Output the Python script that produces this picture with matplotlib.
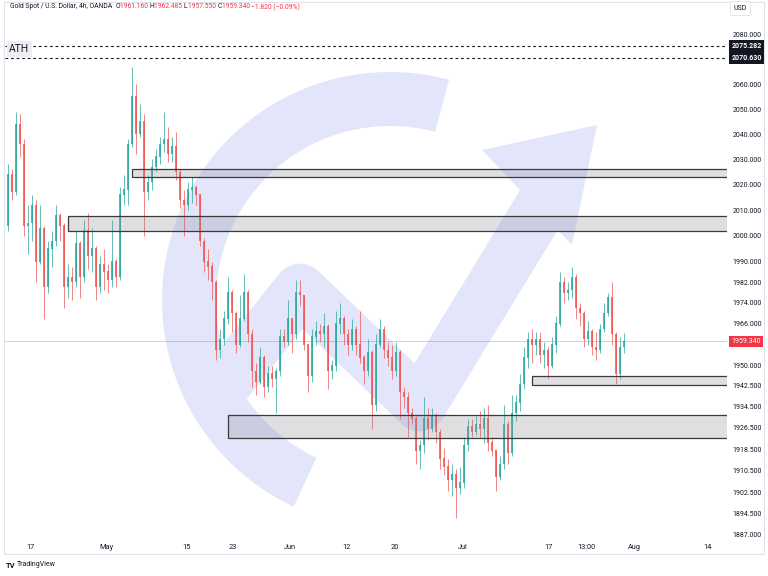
import numpy as np
import matplotlib
matplotlib.use("Agg")
import matplotlib.pyplot as plt
from matplotlib.patches import Rectangle, Polygon
from matplotlib.ticker import NullLocator
import matplotlib.transforms as mtransforms

plt.rcParams["font.family"] = ["Roboto", "DejaVu Sans"]

first_open = 2004.0
highs = [2028, 2026, 2049, 2048, 2038, 2012, 2016, 2014, 2012, 2004,
         1998, 2002, 2012, 2009, 2005, 1989, 1988, 2002, 1998, 2006,
         2009, 2003, 1996, 1992, 1995, 1989, 2006, 1991, 2019, 2024,
         2038, 2067, 2060, 2052, 2048, 2024, 2030, 2034, 2039, 2049,
         2043, 2039, 2041, 2026, 2018, 2021, 2023, 2020, 2016, 1999,
         1995, 1990, 1983, 1964, 1971, 1984, 1979, 1971, 1977, 1985,
         1979, 1964, 1951, 1957, 1954, 1950, 1950, 1949, 1964, 1964,
         1975, 1968, 1983, 1983, 1977, 1958, 1964, 1967, 1966, 1970,
         1966, 1952, 1971, 1974, 1969, 1964, 1968, 1965, 1971, 1954,
         1960, 1956, 1962, 1968, 1965, 1959, 1958, 1959, 1956, 1942,
         1940, 1934, 1931, 1922, 1938, 1934, 1934, 1932, 1926, 1919,
         1915, 1913, 1911, 1912, 1923, 1930, 1930, 1931, 1933, 1934,
         1935, 1923, 1918, 1916, 1935, 1929, 1939, 1939, 1947, 1957,
         1963, 1964, 1963, 1963, 1959, 1957, 1961, 1969, 1986, 1984,
         1982, 1988, 1985, 1974, 1971, 1967, 1964, 1963, 1966, 1974,
         1978, 1982, 1963, 1961, 1962.485]
lows = [2002, 2014, 2016, 2031, 2000, 1993, 1998, 1982, 1989, 1968,
        1978, 1988, 1996, 1998, 1972, 1976, 1975, 1980, 1976, 1982,
        1987, 1986, 1975, 1978, 1979, 1978, 1980, 1980, 1983, 2012,
        2012, 2035, 2032, 2039, 2000, 2014, 2018, 2025, 2028, 2033,
        2029, 2029, 2022, 2011, 2000, 2010, 2013, 2012, 1996, 1986,
        1983, 1975, 1952, 1953, 1958, 1966, 1963, 1955, 1957, 1967,
        1959, 1942, 1939, 1943, 1938, 1940, 1942, 1932, 1946, 1957,
        1958, 1955, 1960, 1973, 1956, 1940, 1944, 1958, 1959, 1957,
        1941, 1945, 1948, 1962, 1958, 1954, 1956, 1954, 1951, 1943,
        1946, 1926, 1933, 1957, 1953, 1950, 1945, 1946, 1930, 1934,
        1923, 1928, 1913, 1911, 1917, 1922, 1925, 1921, 1911, 1909,
        1903, 1901, 1893, 1902, 1904, 1918, 1923, 1924, 1923, 1921,
        1918, 1916, 1903, 1907, 1911, 1913, 1916, 1929, 1933, 1941,
        1949, 1951, 1954, 1951, 1949, 1945, 1949, 1955, 1965, 1974,
        1975, 1976, 1968, 1965, 1957, 1958, 1954, 1952, 1955, 1963,
        1969, 1958, 1943, 1945, 1955]
closes = [2024, 2017, 2044, 2036, 2004, 2005, 2012, 1990, 2003, 1980,
          1995, 1998, 2008, 2004, 1980, 1984, 1982, 1997, 1984, 2002,
          1992, 1995, 1980, 1989, 1986, 1983, 1990, 1984, 2016, 2018,
          2036, 2055, 2040, 2045, 2017, 2021, 2027, 2031, 2036, 2038,
          2032, 2035, 2025, 2014, 2012, 2018, 2019, 2016, 1998, 1990,
          1988, 1982, 1956, 1960, 1968, 1978, 1970, 1958, 1968, 1978,
          1962, 1948, 1944, 1953, 1942, 1947, 1945, 1948, 1961, 1959,
          1968, 1962, 1978, 1977, 1958, 1946, 1961, 1963, 1962, 1965,
          1948, 1950, 1966, 1968, 1962, 1958, 1964, 1958, 1953, 1948,
          1955, 1935, 1958, 1964, 1956, 1953, 1948, 1955, 1940, 1938,
          1932, 1930, 1918, 1920, 1930, 1926, 1931, 1925, 1915, 1912,
          1907, 1909, 1904, 1906, 1920, 1927, 1925, 1928, 1926, 1930,
          1921, 1918, 1908, 1913, 1928, 1917, 1932, 1936, 1943, 1953,
          1960, 1958, 1960, 1954, 1956, 1950, 1958, 1966, 1982, 1978,
          1979, 1984, 1972, 1970, 1960, 1963, 1957, 1956, 1964, 1970,
          1976, 1962, 1947, 1957, 1959.34]

price_ticks = [2080, 2060, 2050, 2040, 2030, 2020, 2010, 2000, 1990, 1982,
               1974, 1966, 1950, 1942.5, 1934.5, 1926.5, 1918.5, 1910.5,
               1902.5, 1894.5, 1887]
day_ticks = [0, 9.6, 19.6, 25.4, 32.5, 39.6, 45.6, 54.1, 64.75, 69.6, 75.6, 84.75]
day_labels = ["17", "May", "15", "23", "Jun", "12", "20", "Jul", "17", "13:00", "Aug", "14"]

# (start day, low, high) of the drawn boxes
zone_start = [12.75, 4.75, 62.75, 24.75]
zone_low = [2022.9, 2001.8, 1942.5, 1922.7]
zone_high = [2026.3, 2007.7, 1946.1, 1931.4]
ath_levels = [2075.282, 2070.630]
last_price = 1959.34

W, H = 768, 576
UP, DOWN = "#26a69a", "#ef5350"
TXT = "#131722"
RED = "#f23645"

fig = plt.figure(figsize=(W / 100, H / 100), dpi=100)
fig.patch.set_facecolor("white")


def fx(px):
    return px / W


def fy(py):
    return 1 - py / H


# watermark sits in its own pixel-space axes behind the chart
wm = fig.add_axes([0, 0, 1, 1], zorder=0)
wm.set_xlim(0, W)
wm.set_ylim(H, 0)
wm.axis("off")
wm_col = "#e3e6fa"
cx, cy, r_out, r_in = 390, 300, 228, 174
th = np.radians(np.linspace(75, 245, 120))
ring = np.vstack([
    np.column_stack([cx + r_out * np.cos(th), cy - r_out * np.sin(th)]),
    np.column_stack([cx + r_in * np.cos(th[::-1]), cy - r_in * np.sin(th[::-1])]),
])
wm.add_patch(Polygon(ring, closed=True, facecolor=wm_col, edgecolor="none"))
wm.plot([212, 300, 420, 545], [400, 290, 405, 200], color=wm_col, lw=38,
        solid_capstyle="butt", solid_joinstyle="round")
wm.add_patch(Polygon([[597, 125], [482, 150], [572, 245]], closed=True,
                     facecolor=wm_col, edgecolor="none"))

ax = fig.add_axes([fx(5), 1 - 537 / H, 722 / W, 535 / H], zorder=1)
ax.patch.set_alpha(0)
ax.set_yscale("log")
ax.set_ylim(1886.0, 2093.2)
ax.set_xlim(-3.125, 87.125)

n = len(closes)
x = -3 + 0.25 + 0.5 * np.arange(n)
opens = [first_open] + closes[:-1]
for i in range(n):
    o, c = opens[i], closes[i]
    col = UP if c >= o else DOWN
    ax.vlines(x[i], min(lows[i], o, c), max(highs[i], o, c), color=col, lw=0.5, zorder=2)
    ax.vlines(x[i], min(o, c), max(o, c) + 0.15, color=col, lw=1.15, zorder=2)

for x0, lo, hi in zip(zone_start, zone_low, zone_high):
    ax.add_patch(Rectangle((x0, lo), 200, hi - lo, facecolor=(0.55, 0.55, 0.6, 0.28),
                           edgecolor="#3a3a3a", lw=0.9, zorder=3))

for lvl in ath_levels:
    ax.axhline(lvl, color=TXT, lw=0.8, ls=(0, (2.5, 2.5)), zorder=3)
ax.text(-2.6, ath_levels[0] - 1.2, "ATH", fontsize=7.5, color=TXT, va="center", ha="left",
        bbox=dict(boxstyle="square,pad=0.25", fc="#eceef2", ec="none"), zorder=4)
ax.axhline(last_price, color=RED, lw=0.5, alpha=0.45, zorder=1.5)

ax.yaxis.tick_right()
ax.set_yticks(price_ticks)
ax.set_yticklabels([f"{p:.3f}" for p in price_ticks])
ax.yaxis.set_minor_locator(NullLocator())
ax.set_xticks(day_ticks)
ax.set_xticklabels(day_labels)
ax.tick_params(axis="y", length=0, pad=4, labelsize=5, labelcolor=TXT)
ax.tick_params(axis="x", length=0, pad=5, labelsize=5.3, labelcolor=TXT)
for s in ax.spines.values():
    s.set_visible(False)

trans = mtransforms.blended_transform_factory(ax.transAxes, ax.transData)
for lvl in ath_levels:
    ax.text(1.006, lvl, f"{lvl:.3f}", transform=trans, fontsize=5, color="white",
            fontweight="bold", va="center", ha="left", zorder=5,
            bbox=dict(boxstyle="square,pad=0.3", fc=TXT, ec="none"))
ax.text(1.006, last_price, f"{last_price:.3f}", transform=trans, fontsize=5, color="white",
        va="center", ha="left", zorder=5,
        bbox=dict(boxstyle="square,pad=0.3", fc=RED, ec="none"))

fig.text(fx(740), fy(8), "USD", fontsize=5, color=TXT, va="center", ha="center",
         bbox=dict(boxstyle="square,pad=0.5", fc="white", ec="#e0e3eb", lw=0.6))

# header pieces placed one after another
renderer = fig.canvas.get_renderer()
pieces = [("Gold Spot / U.S. Dollar, 4h, OANDA  ", TXT), ("O", TXT), ("1961.160 ", RED),
          ("H", TXT), ("1962.485 ", RED), ("L", TXT), ("1957.550 ", RED),
          ("C", TXT), ("1959.340 ", RED), ("\u22121.820 (\u22120.09%)", RED)]
xp = 10
for s, c in pieces:
    t = fig.text(fx(xp), fy(7), s, fontsize=4.9, color=c, va="center", ha="left")
    xp += t.get_window_extent(renderer=renderer).width

fig.text(fx(6), fy(565), "TV", fontsize=5.5, fontweight="bold", color=TXT, va="center")
fig.text(fx(17), fy(565), "TradingView", fontsize=5, color=TXT, va="center")

# outer frame
fig.add_artist(Rectangle((fx(4), fy(554)), fx(760), 553 / H - 0.001, transform=fig.transFigure,
                         fill=False, ec="#e0e3eb", lw=0.8))

fig.savefig("out.png", dpi=100)
